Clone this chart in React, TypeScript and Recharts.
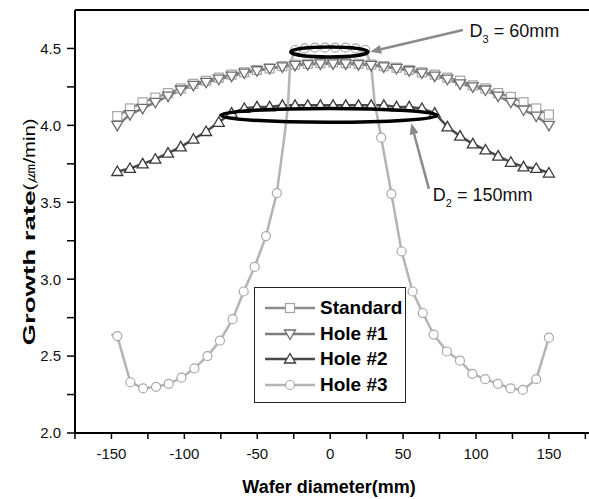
import { Line, LineChart, ReferenceArea, ReferenceDot, ReferenceLine, XAxis, YAxis } from "recharts";

// wafer positions (mm) shared by Standard / Hole #1 / Hole #2
const positions = [
  -146, -137.3, -128.6, -119.9, -111.2, -102.5, -93.8, -85.1, -76.4, -67.6, -58.9, -50.2,
  -41.5, -32.8, -24.1, -15.4, -6.7, 2.0, 10.7, 19.4, 28.1, 36.8, 45.5, 54.2, 62.9, 71.7,
  80.4, 89.1, 97.8, 106.5, 115.2, 123.9, 132.6, 141.3, 150,
];
const standard = [
  4.06, 4.11, 4.15, 4.18, 4.21, 4.24, 4.27, 4.29, 4.31, 4.33, 4.345, 4.36, 4.37, 4.385,
  4.395, 4.4, 4.405, 4.41, 4.405, 4.4, 4.395, 4.385, 4.375, 4.36, 4.345, 4.33, 4.31, 4.29,
  4.26, 4.24, 4.21, 4.185, 4.15, 4.11, 4.07,
];
const hole1 = [
  4.0, 4.07, 4.11, 4.15, 4.19, 4.23, 4.26, 4.28, 4.3, 4.32, 4.34, 4.355, 4.37, 4.38, 4.39,
  4.395, 4.4, 4.4, 4.4, 4.395, 4.39, 4.38, 4.37, 4.355, 4.34, 4.32, 4.3, 4.27, 4.25, 4.23,
  4.19, 4.15, 4.1, 4.06, 4.0,
];
const hole2 = [
  3.7, 3.72, 3.75, 3.78, 3.82, 3.86, 3.91, 3.96, 4.02, 4.08, 4.11, 4.12, 4.12, 4.13, 4.13,
  4.13, 4.13, 4.13, 4.13, 4.13, 4.13, 4.13, 4.12, 4.12, 4.11, 4.08, 3.99, 3.93, 3.88, 3.84,
  3.8, 3.76, 3.73, 3.72, 3.69,
];

// Hole #3 was sampled on its own positions
const hole3X = [
  -150, -146, -137, -128.3, -119.4, -110.7, -102, -93.1, -84.2, -75.6, -66.9, -59.3, -51.8,
  -44, -36.6, -31.5, -29, -27.5, -24, -17.5, -10.5, -3.5, 3.5, 10.5, 17.5, 24, 28, 30.5, 35,
  42, 49, 56.5, 63.5, 71, 80, 89, 97.5, 106.3, 115, 123.7, 132.1, 141.3, 150,
];
const hole3Y = [
  2.64, 2.63, 2.33, 2.29, 2.3, 2.32, 2.36, 2.42, 2.5, 2.6, 2.74, 2.92, 3.08, 3.28, 3.56,
  3.92, 4.12, 4.4, 4.49, 4.5, 4.505, 4.505, 4.505, 4.505, 4.5, 4.49, 4.4, 4.15, 3.92, 3.555,
  3.18, 2.92, 2.78, 2.64, 2.53, 2.47, 2.385, 2.35, 2.32, 2.29, 2.28, 2.35, 2.62,
];
// positions drawn by the line only, without a symbol
const hole3Unmarked = [-150, -31.5, -29, -27.5, 28, 30.5];

const xTicks = [-175, -150, -125, -100, -75, -50, -25, 0, 25, 50, 75, 100, 125, 150, 175];
const yTicks = [2.0, 2.25, 2.5, 2.75, 3.0, 3.25, 3.5, 3.75, 4.0, 4.25, 4.5];

const data = positions.map((x, i) => ({ x, standard: standard[i], hole1: hole1[i], hole2: hole2[i] }));
const hole3Data = hole3X.map((x, i) => ({ x, y: hole3Y[i] }));

const FONT = "Arial, 'Liberation Sans', sans-serif";
const X_DOMAIN: [number, number] = [-175, 177.5];
const Y_DOMAIN: [number, number] = [2.0, 4.75];

type Shape = "square" | "down" | "up" | "circle";

function Marker({ cx, cy, shape, stroke }: { cx: number; cy: number; shape: Shape; stroke: string }) {
  if (shape === "square")
    return <rect x={cx - 4.5} y={cy - 4.5} width={9} height={9} fill="#fff" stroke={stroke} strokeWidth={1.2} />;
  if (shape === "down")
    return <polygon points={`${cx - 5.5},${cy - 4} ${cx + 5.5},${cy - 4} ${cx},${cy + 5.5}`} fill="#fff" stroke={stroke} strokeWidth={1.3} />;
  if (shape === "up")
    return <polygon points={`${cx - 5.5},${cy + 4} ${cx + 5.5},${cy + 4} ${cx},${cy - 5.5}`} fill="#fff" stroke={stroke} strokeWidth={1.3} />;
  return <circle cx={cx} cy={cy} r={4.5} fill="#fff" stroke={stroke} strokeWidth={1.2} />;
}

const series = [
  { key: "standard", name: "Standard", line: "#8c8c8c", mark: "#a6a6a6", shape: "square" as Shape },
  { key: "hole1", name: "Hole #1", line: "#7d7d7d", mark: "#6e6e6e", shape: "down" as Shape },
  { key: "hole2", name: "Hole #2", line: "#4a4a4a", mark: "#3a3a3a", shape: "up" as Shape },
  { key: "hole3", name: "Hole #3", line: "#b4b4b4", mark: "#a8a8a8", shape: "circle" as Shape },
];

function Arrow(props: any) {
  const { x1, y1, x2, y2 } = props;
  const ang = Math.atan2(y2 - y1, x2 - x1);
  const len = 11;
  const w = 4.5;
  const bx = x2 - len * Math.cos(ang);
  const by = y2 - len * Math.sin(ang);
  const px = -Math.sin(ang) * w;
  const py = Math.cos(ang) * w;
  return (
    <g>
      <line x1={x1} y1={y1} x2={bx} y2={by} stroke="#8a8a8a" strokeWidth={2.5} />
      <polygon points={`${x2},${y2} ${bx + px},${by + py} ${bx - px},${by - py}`} fill="#8a8a8a" />
    </g>
  );
}

function EllipseShape(props: any) {
  const { x, y, width, height } = props;
  return (
    <ellipse cx={x + width / 2} cy={y + height / 2} rx={width / 2} ry={height / 2} fill="none" stroke="#000" strokeWidth={3.5} />
  );
}

function dimLabel(sub: string, rest: string) {
  return (props: any) => (
    <text x={props.cx} y={props.cy} fontFamily={FONT} fontSize={18} fill="#111">
      D
      <tspan fontSize={11} dy={6}>{sub}</tspan>
      <tspan dy={-6}>{` = ${rest}`}</tspan>
    </text>
  );
}

export default function App() {
  return (
    <div style={{ position: "relative", width: 589, height: 499, background: "#fff" }}>
      <style>{"body{margin:0;overflow:hidden;background:#fff}"}</style>
      <LineChart width={589} height={499} data={data} margin={{ top: 10, right: 0, left: 0, bottom: 0 }}>
        <XAxis
          dataKey="x"
          type="number"
          domain={X_DOMAIN}
          ticks={xTicks}
          tickFormatter={(v: number) => (v % 50 === 0 ? String(v) : "")}
          height={66}
          tickSize={6}
          tickMargin={9}
          axisLine={{ stroke: "#000", strokeWidth: 2 }}
          tickLine={{ stroke: "#000", strokeWidth: 1.5 }}
          tick={{ fill: "#111", fontSize: 15, fontFamily: FONT }}
          interval={0}
          allowDataOverflow
          label={{
            content: () => (
              <text x={329} y={493} textAnchor="middle" fontFamily={FONT} fontSize={18} fontWeight="bold" fill="#000">
                Wafer diameter(mm)
              </text>
            ),
          }}
        />
        <YAxis
          type="number"
          domain={Y_DOMAIN}
          ticks={yTicks}
          tickFormatter={(v: number) => (Math.round(v * 100) % 50 === 0 ? v.toFixed(1) : "")}
          width={75}
          tickSize={8}
          tickMargin={6}
          axisLine={{ stroke: "#000", strokeWidth: 2 }}
          tickLine={{ stroke: "#000", strokeWidth: 1.5 }}
          tick={{ fill: "#111", fontSize: 15, fontFamily: FONT }}
          interval={0}
          allowDataOverflow
          label={{
            content: () => (
              <text transform="translate(35, 232) rotate(-90)" textAnchor="middle" fontFamily={FONT} fill="#000">
                <tspan fontSize={17} fontWeight="bold" textLength={155} lengthAdjust="spacingAndGlyphs">Growth rate</tspan>
                <tspan fontSize={16} textLength={72} lengthAdjust="spacingAndGlyphs">(㎛/min)</tspan>
              </text>
            ),
          }}
        />
        <ReferenceLine y={4.75} stroke="#000" strokeWidth={2} ifOverflow="visible" />

        {series.slice(0, 3).map((s) => (
          <Line
            key={s.key}
            dataKey={s.key}
            name={s.name}
            stroke={s.line}
            strokeWidth={2.5}
            isAnimationActive={false}
            dot={(p: any) => <Marker key={`${s.key}-${p.index}`} cx={p.cx} cy={p.cy} shape={s.shape} stroke={s.mark} />}
          />
        ))}
        <Line
          data={hole3Data}
          dataKey="y"
          name="Hole #3"
          stroke="#b4b4b4"
          strokeWidth={2.5}
          isAnimationActive={false}
          dot={(p: any) =>
            hole3Unmarked.includes(p.payload.x) ? (
              <g key={`h3-${p.index}`} />
            ) : (
              <Marker key={`h3-${p.index}`} cx={p.cx} cy={p.cy} shape="circle" stroke="#a8a8a8" />
            )
          }
        />
      </LineChart>

      {/* annotation layer on top of the series, same scales */}
      <div style={{ position: "absolute", left: 0, top: 0, pointerEvents: "none" }}>
        <LineChart width={589} height={499} data={data} margin={{ top: 10, right: 0, left: 75, bottom: 66 }}>
          <XAxis dataKey="x" type="number" domain={X_DOMAIN} hide allowDataOverflow />
          <YAxis type="number" domain={Y_DOMAIN} hide allowDataOverflow />
          <ReferenceArea x1={-27.1} x2={25.9} y1={4.445} y2={4.51} ifOverflow="visible" shape={EllipseShape} />
          <ReferenceArea x1={-75.1} x2={73.4} y1={4.02} y2={4.11} ifOverflow="visible" shape={EllipseShape} />
          <ReferenceLine segment={[{ x: 91, y: 4.62 }, { x: 27.5, y: 4.478 }]} ifOverflow="visible" shape={Arrow} />
          <ReferenceLine segment={[{ x: 67.7, y: 3.587 }, { x: 55.6, y: 4.013 }]} ifOverflow="visible" shape={Arrow} />
          <ReferenceDot x={95.6} y={4.572} ifOverflow="visible" shape={dimLabel("3", "60mm")} />
          <ReferenceDot x={70.4} y={3.511} ifOverflow="visible" shape={dimLabel("2", "150mm")} />
        </LineChart>
      </div>

      <div
        style={{
          position: "absolute",
          left: 254,
          top: 287,
          width: 152,
          height: 116,
          border: "1.5px solid #222",
          background: "#fff",
          paddingTop: 7,
          boxSizing: "border-box",
        }}
      >
        {series.map((s) => (
          <div key={s.key} style={{ display: "flex", alignItems: "center", height: 25.8, paddingLeft: 10 }}>
            <svg width={50} height={20} style={{ display: "block" }}>
              <line x1={0} y1={10} x2={50} y2={10} stroke={s.line} strokeWidth={2.5} />
              <Marker cx={25} cy={10} shape={s.shape} stroke={s.mark} />
            </svg>
            <span style={{ marginLeft: 5, fontFamily: FONT, fontWeight: "bold", fontSize: 19, color: "#000" }}>{s.name}</span>
          </div>
        ))}
      </div>
    </div>
  );
}
